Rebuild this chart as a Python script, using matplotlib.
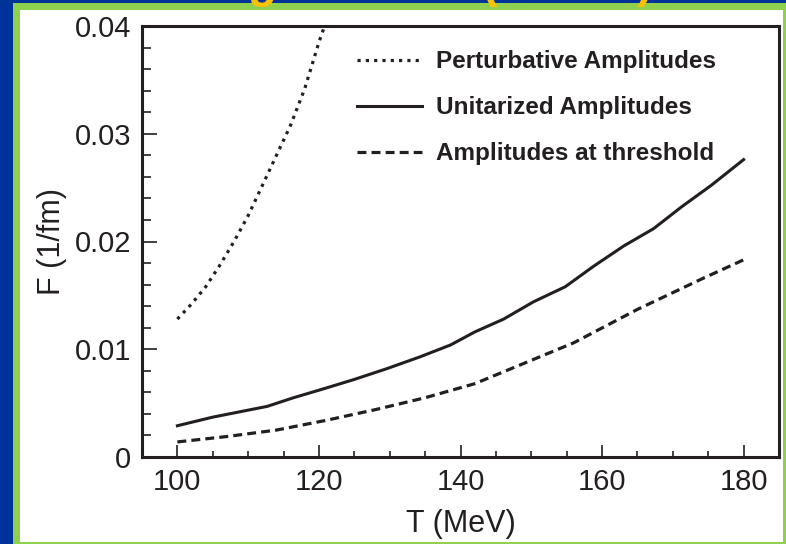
import matplotlib
matplotlib.use("Agg")
import matplotlib.pyplot as plt
from matplotlib.patches import Rectangle
from matplotlib.ticker import MultipleLocator

plt.rcParams['font.family'] = ['Liberation Sans', 'DejaVu Sans']

# ---- data ----
T_pert = [100, 102, 104, 106, 108, 110, 112, 114, 116, 118, 120, 120.8]
F_pert = [0.0128, 0.0142, 0.0158, 0.0178, 0.0200, 0.0224, 0.0252, 0.0280,
          0.0308, 0.0342, 0.0385, 0.0400]

T_unit = [100, 105, 112.7, 116.4, 120, 125, 129.6, 134.3, 138.6, 142, 146.1,
          150.3, 154.8, 158.8, 163.1, 167.3, 171.2, 175.4, 180]
F_unit = [0.0029, 0.0037, 0.0047, 0.0055, 0.0062, 0.0072, 0.0082, 0.0093,
          0.0104, 0.0116, 0.0128, 0.0144, 0.0158, 0.0177, 0.0196, 0.0212,
          0.0232, 0.0252, 0.0276]

T_thr = [100, 107, 114, 121, 128, 135, 142, 149, 156, 165, 174, 180]
F_thr = [0.0014, 0.0019, 0.0025, 0.0034, 0.0044, 0.0055, 0.0068, 0.0087,
         0.0106, 0.0137, 0.0165, 0.0183]

labels = ["Perturbative Amplitudes", "Unitarized Amplitudes",
          "Amplitudes at threshold"]
xticks = [100, 120, 140, 160, 180]
yticks = [0, 0.01, 0.02, 0.03, 0.04]
ytick_labels = ["0", "0.01", "0.02", "0.03", "0.04"]

W, H = 786, 544
fig = plt.figure(figsize=(W / 100, H / 100), dpi=100)

def px_rect(x0, y0_top, x1, y1_top, color):
    # rectangle in pixel coords measured from the top-left
    return Rectangle((x0 / W, 1 - y1_top / H), (x1 - x0) / W,
                     (y1_top - y0_top) / H, transform=fig.transFigure,
                     facecolor=color, edgecolor='none', zorder=-10)

fig.patches.append(px_rect(0, 0, W, H, '#003399'))
fig.patches.append(px_rect(13, 3, W, H, '#8fd14f'))
fig.patches.append(px_rect(20, 10, 783, 542, 'white'))

# cut-off slide title remnants (only their lower edges show in the reference)
for xp, ch in [(262, "g"), (490, "("), (645, ")")]:
    fig.text(xp / W, 1 + 3 / H, ch, color='#ffc000', fontsize=34,
             fontweight='bold', ha='center', va='baseline', zorder=5)

ax = fig.add_axes([142 / W, 87 / H, 637 / W, 431 / H])
ink = '#231f20'

ax.plot(T_pert, F_pert, color=ink, lw=2.3, dashes=(1.0, 1.6),
        dash_capstyle='butt', label=labels[0])
ax.plot(T_unit, F_unit, color=ink, lw=2.2, solid_joinstyle='miter',
        label=labels[1])
ax.plot(T_thr, F_thr, color=ink, lw=2.3, dashes=(2.8, 1.6),
        dash_capstyle='butt', label=labels[2])

ax.set_xlim(95, 185)
ax.set_ylim(0, 0.04)
ax.set_xticks(xticks)
ax.set_xticklabels([str(v) for v in xticks])
ax.set_yticks(yticks)
ax.set_yticklabels(ytick_labels)
ax.xaxis.set_minor_locator(MultipleLocator(5))
ax.yaxis.set_minor_locator(MultipleLocator(0.002))

ax.tick_params(axis='both', which='both', direction='in', color=ink,
               labelcolor=ink, labelsize=21, width=1.2)
ax.tick_params(axis='x', which='major', length=8.5, pad=8)
ax.tick_params(axis='x', which='minor', length=4.3)
ax.tick_params(axis='y', which='major', length=11, pad=8)
ax.tick_params(axis='y', which='minor', length=6.5)

for s in ax.spines.values():
    s.set_linewidth(2.2)
    s.set_color(ink)

ax.set_xlabel("T (MeV)", fontsize=22, color=ink, labelpad=9)
ax.set_ylabel("F (1/fm)", fontsize=22, color=ink, labelpad=5)

leg = ax.legend(loc='upper right', bbox_to_anchor=(0.935, 0.995),
                frameon=False, handlelength=2.7,
                handletextpad=0.55, labelspacing=0.95,
                prop={'weight': 'bold', 'size': 17.5})
for t in leg.get_texts():
    t.set_color(ink)

fig.savefig("out.png", dpi=100)
